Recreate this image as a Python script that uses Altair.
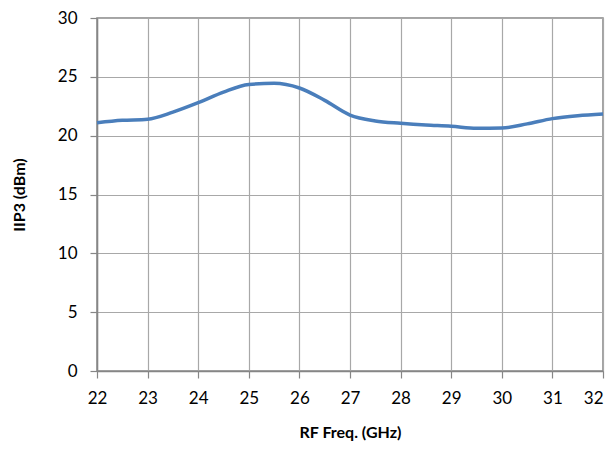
import altair as alt
import pandas as pd

freq = [22, 22.5, 23, 23.5, 24, 24.5, 25, 25.5, 26, 26.5, 27, 27.5, 28, 28.5, 29, 29.5, 30, 30.5, 31, 31.5, 32]
iip3 = [21.1, 21.3, 21.4, 22.0, 22.8, 23.7, 24.35, 24.45, 24.05, 23.0, 21.75, 21.25, 21.05, 20.9, 20.8, 20.62, 20.65, 21.0, 21.45, 21.7, 21.85]

df = pd.DataFrame({"freq": freq, "iip3": iip3})

FONT = "Lato"

chart = alt.Chart(df).mark_line(
    color="#4a7ebb", strokeWidth=3.5, interpolate="monotone"
).encode(
    x=alt.X("freq:Q", scale=alt.Scale(domain=[22, 32], nice=False, zero=False),
            axis=alt.Axis(title="RF Freq. (GHz)", values=list(range(22, 33)), format="d",
                          tickSize=7, labelPadding=12, titlePadding=18, labelFlush=False,
                          labelAlign=alt.expr("datum.value == 32 ? 'right' : 'center'"))),
    y=alt.Y("iip3:Q", scale=alt.Scale(domain=[0, 30], nice=False),
            axis=alt.Axis(title="IIP3 (dBm)", values=list(range(0, 31, 5)), format="d",
                          tickSize=7, labelPadding=13, titlePadding=30, labelFlush=False)),
).properties(
    width=506, height=353,
    autosize=alt.AutoSizeParams(type="none"),
    padding={"left": 89, "top": 10, "right": 4, "bottom": 72},
).configure_view(
    stroke="#868686", strokeWidth=1.5
).configure_axis(
    grid=True, gridColor="#a8a8a8", gridWidth=1.2,
    domainColor="#868686", domainWidth=1.5,
    tickColor="#868686", tickWidth=1.2,
    labelFont=FONT, labelFontSize=17, labelColor="#000000",
    titleFont=FONT, titleFontSize=16, titleFontWeight="bold", titleColor="#000000",
)

chart.save("out.html", embed_options={"renderer": "svg", "actions": False})
